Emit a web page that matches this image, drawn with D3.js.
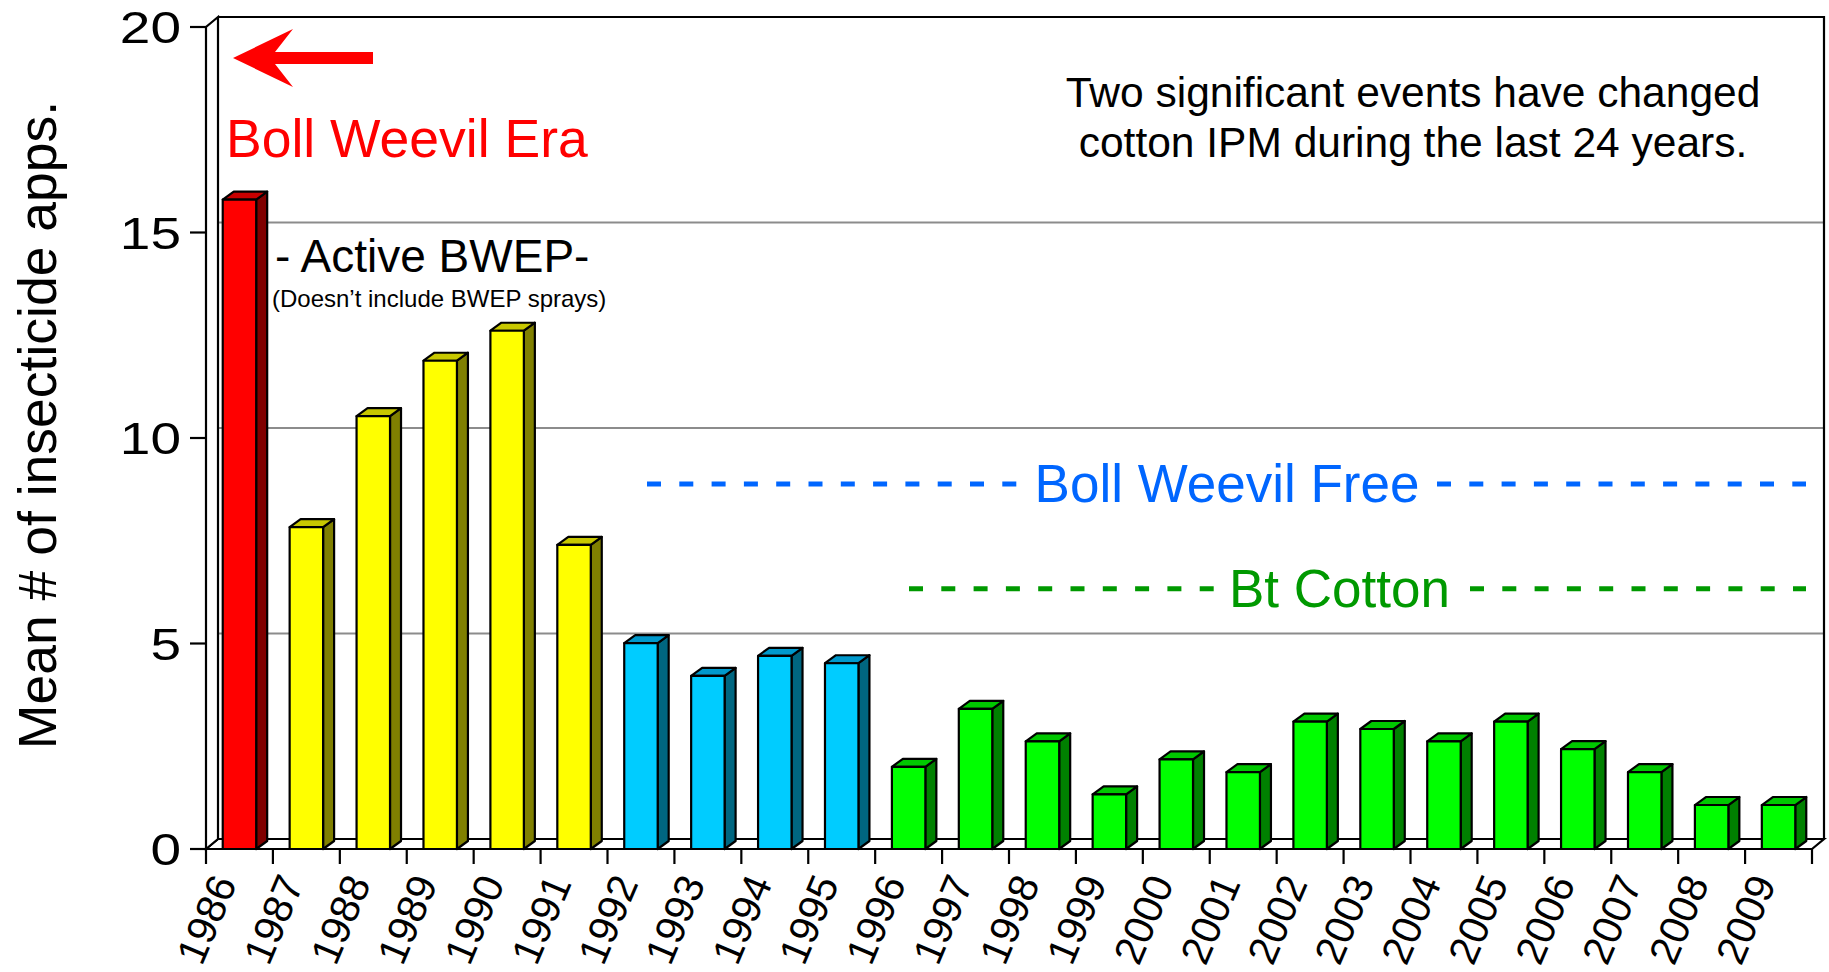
<!DOCTYPE html>
<html>
<head>
<meta charset="utf-8">
<script src="https://cdn.jsdelivr.net/npm/d3@7"></script>
<style>
  html, body { margin: 0; padding: 0; background: #fff; }
  svg { display: block; font-family: "Liberation Sans", Arial, sans-serif; }
</style>
</head>
<body>
<svg id="chart" width="1829" height="972"></svg>
<script>
// ---------------- data ----------------
const years = ["1986","1987","1988","1989","1990","1991","1992","1993","1994","1995","1996","1997",
               "1998","1999","2000","2001","2002","2003","2004","2005","2006","2007","2008","2009"];
const values = [15.8, 7.83, 10.53, 11.88, 12.61, 7.40, 5.01, 4.21, 4.70, 4.52, 2.00, 3.41,
                2.62, 1.33, 2.18, 1.87, 3.10, 2.92, 2.62, 3.10, 2.43, 1.87, 1.07, 1.07];
const eras = ["weevil","bwep","bwep","bwep","bwep","bwep","free","free","free","free","bt","bt",
              "bt","bt","bt","bt","bt","bt","bt","bt","bt","bt","bt","bt"];
const yTicks = [0, 5, 10, 15, 20];
const yTickLabels = ["0", "5", "10", "15", "20"];
const yTitle = "Mean # of insecticide apps.";
const noteLines = ["Two significant events have changed", "cotton IPM during the last 24 years."];
const freeLevel = 8.88;   // "Boll Weevil Free" dashed line level
const btLevel = 6.33;     // "Bt Cotton" dashed line level

// ---------------- styles ----------------
const eraColors = {
  weevil: { front: "#FF0000", top: "#C80000", side: "#800000" },
  bwep:   { front: "#FFFF00", top: "#C8C800", side: "#808000" },
  free:   { front: "#00CCFF", top: "#0099CC", side: "#006680" },
  bt:     { front: "#00FF00", top: "#00C800", side: "#008000" }
};
const FONT = "'Liberation Sans', Arial, sans-serif";

const svg = d3.select("#chart");

const x = d3.scaleBand().domain(years).range([206, 1812]).paddingInner(0.5).paddingOuter(0.25);
const y = d3.scaleLinear().domain([0, 20]).range([849, 27]);

const [x0, x1] = x.range();
const yBase = y(0), yTop = y(20);
const wdx = 12, wdy = -10;  // wall depth
const bdx = 11, bdy = -8;   // bar depth

// back wall
svg.append("rect")
  .attr("x", x0 + wdx).attr("y", yTop + wdy)
  .attr("width", x1 - x0).attr("height", yBase - yTop)
  .attr("fill", "#fff");

// gridlines (back wall + diagonals on side wall)
const grid = svg.append("g");
yTicks.filter(v => v > 0 && v < 20).forEach(v => {
  grid.append("line")
    .attr("x1", x0 + wdx).attr("x2", x1 + wdx)
    .attr("y1", y(v) + wdy).attr("y2", y(v) + wdy)
    .attr("stroke", "#8c8c8c").attr("stroke-width", 2);
  grid.append("line")
    .attr("x1", x0).attr("x2", x0 + wdx)
    .attr("y1", y(v)).attr("y2", y(v) + wdy)
    .attr("stroke", "#8c8c8c").attr("stroke-width", 2);
});

// frame lines
const frame = svg.append("g").attr("stroke", "#000").attr("stroke-width", 2.2).attr("fill", "none");
frame.append("path").attr("fill", "#fff")
  .attr("d", `M${x0},${yBase} L${x0 + wdx},${yBase + wdy} L${x1 + wdx},${yBase + wdy} L${x1},${yBase} Z`);
frame.append("path").attr("fill", "#fff")
  .attr("d", `M${x0},${yBase} L${x0},${yTop} L${x0 + wdx},${yTop + wdy} L${x0 + wdx},${yBase + wdy} Z`);
frame.append("path")
  .attr("d", `M${x0 + wdx},${yTop + wdy} L${x1 + wdx},${yTop + wdy} L${x1 + wdx},${yBase + wdy}`);

// y ticks & labels
const yAxis = svg.append("g");
yTicks.forEach((v, i) => {
  yAxis.append("line")
    .attr("x1", x0 - 16).attr("x2", x0)
    .attr("y1", y(v)).attr("y2", y(v))
    .attr("stroke", "#000").attr("stroke-width", 2.2);
  yAxis.append("g")
    .attr("transform", `translate(${x0 - 25},${y(v) + 16}) scale(1.25,1)`)
    .append("text")
    .attr("text-anchor", "end")
    .attr("font-family", FONT).attr("font-size", 44)
    .attr("fill", "#000")
    .text(yTickLabels[i]);
});

// x ticks & labels
const xAxis = svg.append("g");
const step = x.step();
for (let i = 0; i <= years.length; i++) {
  const xt = x0 + i * step;
  xAxis.append("line")
    .attr("x1", xt).attr("x2", xt)
    .attr("y1", yBase).attr("y2", yBase + 15)
    .attr("stroke", "#000").attr("stroke-width", 2.2);
}
years.forEach(yr => {
  const cx = x(yr) + x.bandwidth() / 2 - 2;
  xAxis.append("text")
    .attr("transform", `translate(${cx},${yBase + 34}) rotate(-67)`)
    .attr("text-anchor", "end")
    .attr("font-family", FONT).attr("font-size", 41)
    .attr("fill", "#000")
    .text(yr);
});

// bars
const bars = svg.append("g").attr("stroke", "#000").attr("stroke-width", 2.2).attr("stroke-linejoin", "round");
years.forEach((yr, i) => {
  const c = eraColors[eras[i]];
  const bx0 = x(yr), bx1 = x(yr) + x.bandwidth();
  const by = y(values[i]);
  const g = bars.append("g");
  g.append("path").attr("fill", c.side)
    .attr("d", `M${bx1},${yBase} L${bx1},${by} L${bx1 + bdx},${by + bdy} L${bx1 + bdx},${yBase + bdy} Z`);
  g.append("path").attr("fill", c.top)
    .attr("d", `M${bx0},${by} L${bx0 + bdx},${by + bdy} L${bx1 + bdx},${by + bdy} L${bx1},${by} Z`);
  g.append("rect").attr("fill", c.front)
    .attr("x", bx0).attr("y", by).attr("width", bx1 - bx0).attr("height", yBase - by);
});

// y axis title
svg.append("text")
  .attr("transform", `translate(56,${425}) rotate(-90)`)
  .attr("text-anchor", "middle")
  .attr("font-family", FONT).attr("font-size", 53.5)
  .attr("fill", "#000")
  .text(yTitle);

// annotations
svg.append("path")
  .attr("fill", "#FF0000")
  .attr("d", "M233,58 L293,29 L275,52 L373,52 L373,64 L275,64 L293,87 Z");

svg.append("text")
  .attr("x", 226).attr("y", 157)
  .attr("font-family", FONT).attr("font-size", 53.5)
  .attr("fill", "#FF0000")
  .text("Boll Weevil Era");

svg.append("text")
  .attr("x", 275).attr("y", 272)
  .attr("font-family", FONT).attr("font-size", 46)
  .attr("fill", "#000")
  .text("- Active BWEP-");

svg.append("text")
  .attr("x", 272).attr("y", 307)
  .attr("font-family", FONT).attr("font-size", 24)
  .attr("fill", "#000")
  .text("(Doesn\u2019t include BWEP sprays)");

const note = svg.append("text")
  .attr("text-anchor", "middle")
  .attr("font-family", FONT).attr("font-size", 42.5)
  .attr("fill", "#000");
noteLines.forEach((ln, i) => {
  note.append("tspan").attr("x", 1413).attr("y", 107 + i * 50).text(ln);
});

// dashed era lines
function dashedLabel(level, color, segs, label, lx, anchor) {
  const yy = y(level);
  segs.forEach(([a, b]) => {
    svg.append("line")
      .attr("x1", a).attr("x2", b)
      .attr("y1", yy).attr("y2", yy)
      .attr("stroke", color).attr("stroke-width", 5)
      .attr("stroke-dasharray", "14,18.3");
  });
  svg.append("text")
    .attr("x", lx).attr("y", yy + 18)
    .attr("text-anchor", anchor)
    .attr("font-family", FONT).attr("font-size", 53)
    .attr("fill", color)
    .text(label);
}
dashedLabel(freeLevel, "#0066FF", [[647, 1017], [1437, 1806]], "Boll Weevil Free", 1227, "middle");
dashedLabel(btLevel, "#009900", [[909, 1214], [1470, 1806]], "Bt Cotton", 1229, "start");
</script>
</body>
</html>
